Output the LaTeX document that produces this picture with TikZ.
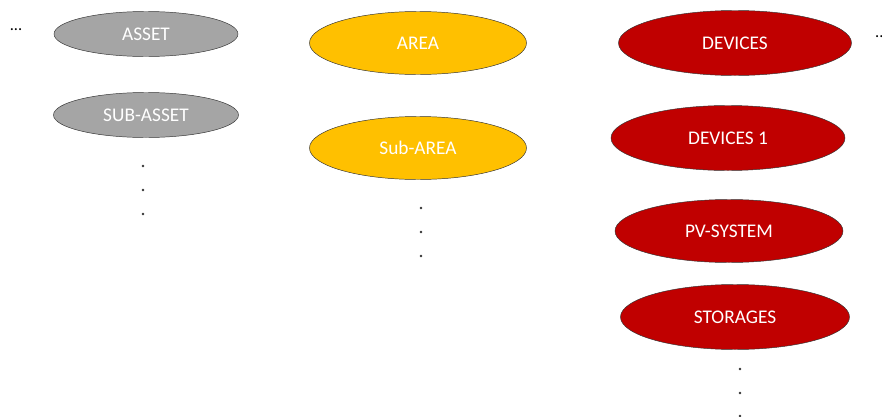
\documentclass[tikz,border=0pt]{standalone}
\usepackage{fontspec}
\setmainfont{Carlito}
\usetikzlibrary{shapes.geometric}
\definecolor{assetgray}{HTML}{A5A5A5}
\definecolor{areayellow}{HTML}{FFC000}
\definecolor{devred}{HTML}{C00000}
\newcommand{\px}{0.03cm}
\newcommand{\dotradius}{1.3}
\tikzset{blob/.style={ellipse, draw=black!80, thin, inner sep=0pt, text=white, font=\fontsize{16.5}{18}\selectfont},
  assetblob/.style={blob, fill=assetgray, minimum width=184*\px, minimum height=45*\px},
  areablob/.style={blob, fill=areayellow, minimum width=217*\px, minimum height=63*\px},
  devblob/.style={blob, fill=devred, minimum height=65*\px}}

\begin{document}
\begin{tikzpicture}[x=\px,y=-\px]
\useasboundingbox (0,0) rectangle (882,417);

% asset column
\node[assetblob] (asset) at (146,34) {ASSET};
\node[assetblob, minimum width=185*\px] (subasset) at (146,115) {SUB-ASSET};

% area column
\node[areablob] (area) at (418,43) {AREA};
\node[areablob] (subarea) at (418,148) {Sub-AREA};

% device column
\node[devblob, minimum width=233*\px] (devices) at (735,43) {DEVICES};
\node[devblob, minimum width=234*\px] (devices1) at (728,138) {DEVICES 1};
\node[devblob, minimum width=228*\px, minimum height=63*\px] (pvsys) at (729,231) {PV-SYSTEM};
\node[devblob, minimum width=229*\px] (storages) at (735,317) {STORAGES};

\node[font=\fontsize{14}{16}\selectfont] (moreleft) at (16,30) {...};
\node[font=\fontsize{14}{16}\selectfont, anchor=west] (moreright) at (871,37) {...};

% vertical dots
\foreach \y in {166,190,214} \fill[black!80] (143,\y) circle (\dotradius);
\foreach \y in {208,232,256} \fill[black!80] (421,\y) circle (\dotradius);
\foreach \y in {369,393,416} \fill[black!80] (740,\y) circle (\dotradius);

\end{tikzpicture}
\end{document}
